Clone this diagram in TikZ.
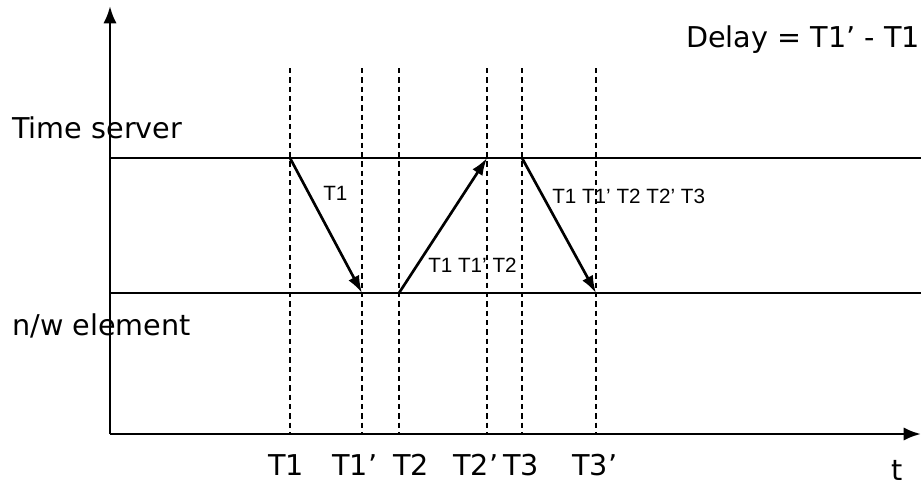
\documentclass[tikz,border=0pt]{standalone}
\usepackage{fontspec}
\setmainfont{DejaVu Sans}
\newfontfamily\msgfont{Liberation Sans}
\usetikzlibrary{arrows.meta}

\begin{document}
\begin{tikzpicture}[x=0.75pt, y=-0.75pt,
  axis/.style={line width=2.1pt, -{Latex[length=13pt,width=10pt]}},
  lane/.style={line width=2pt},
  tickline/.style={line width=0.9pt, dash pattern=on 4pt off 3pt},
  msg/.style={line width=2pt, -{Latex[length=13pt,width=9pt]}},
  biglabel/.style={font=\fontsize{21.5}{24}\selectfont, inner sep=0pt, anchor=base west},
  msglabel/.style={font=\msgfont\fontsize{15.5}{17}\selectfont, inner sep=0pt, anchor=base west}
]
\useasboundingbox (0,0) rectangle (921,487);
\coordinate (origin) at (110,434);
\coordinate (ytip) at (110,6);
\coordinate (xtip) at (921,434);
\coordinate (srvleft) at (110,158);
\coordinate (srvright) at (921,158);
\coordinate (nwleft) at (110,293);
\coordinate (nwright) at (921,293);
% instants on the time axis
\foreach \x/\n in {290/a,362/b,399/c,487/d,522/e,596/f}{
  \coordinate (top\n) at (\x,68);
  \coordinate (bot\n) at (\x,434);
  \coordinate (srv\n) at (\x,158);
  \coordinate (nw\n) at (\x,293);
  \draw[tickline] (top\n) -- (bot\n);
}
\draw[lane] (srvleft) -- (srvright);
\draw[lane] (nwleft) -- (nwright);
\draw[axis] (origin) -- (ytip);
\draw[axis] (origin) -- (xtip);
\draw[msg] (srva) -- (nwb);
\draw[msg] (nwc) -- (srvd);
\draw[msg] (srve) -- (nwf);
\node[biglabel] (server) at (12,138) {Time server};
\node[biglabel] (element) at (12,335) {n/w element};
\node[biglabel] (delay) at (686,47) {Delay = T1’ - T1};
\node[msglabel] (req) at (323,200) {T1};
\node[msglabel] (reply) at (428,272) {T1 T1’ T2};
\node[msglabel] (final) at (552,203) {T1 T1’ T2 T2’ T3};
\node[biglabel] (ta) at (268,475) {T1};
\node[biglabel] (tb) at (332,475) {T1’};
\node[biglabel] (tc) at (393,475) {T2};
\node[biglabel] (td) at (453,475) {T2’};
\node[biglabel] (te) at (503,475) {T3};
\node[biglabel] (tf) at (572,475) {T3’};
\node[biglabel] (tlabel) at (891,480) {t};
\end{tikzpicture}
\end{document}
